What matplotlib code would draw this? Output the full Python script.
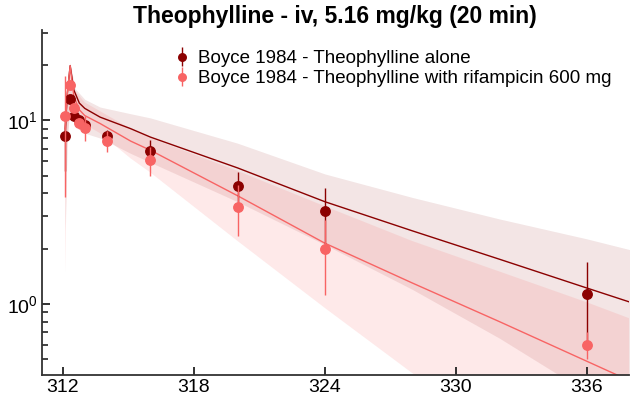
import numpy as np
import matplotlib
matplotlib.use("Agg")
import matplotlib.pyplot as plt

plt.rcParams['font.family'] = ['Liberation Sans', 'DejaVu Sans']
plt.rcParams['mathtext.fontset'] = 'custom'
plt.rcParams['mathtext.rm'] = 'Liberation Sans'
plt.rcParams['mathtext.it'] = 'Liberation Sans:italic'
plt.rcParams['mathtext.bf'] = 'Liberation Sans:bold'

# ---------------- data ----------------
title = "Theophylline - iv, 5.16 mg/kg (20 min)"
label_alone = "Boyce 1984 - Theophylline alone"
label_rif = "Boyce 1984 - Theophylline with rifampicin 600 mg"

obs_time = [312.1, 312.33, 312.5, 312.75, 313.0, 314.0, 316.0, 320.0, 324.0, 336.0]
obs_alone = [8.2, 13.1, 10.6, 10.0, 9.4, 8.2, 6.8, 4.4, 3.2, 1.13]
sd_alone = [2.9, 0.6, 0.5, 0.5, 0.5, 0.7, 1.0, 0.83, 1.07, 0.57]
obs_rif = [10.6, 15.6, 11.7, 9.6, 9.1, 7.7, 6.05, 3.38, 2.0, 0.60]
sd_rif = [6.8, 0.8, 0.7, 0.6, 1.4, 1.0, 1.1, 1.04, 0.88, 0.1]

sim_time = [312.1, 312.2, 312.33, 312.5, 312.75, 313.0, 313.7, 315.1, 316.0,
            320.0, 324.0, 328.0, 332.0, 336.0, 338.0]
sim_alone = [8.5, 14.0, 19.8, 14.6, 12.4, 11.6, 10.4, 9.0, 8.1,
             5.5, 3.6, 2.5, 1.75, 1.22, 1.02]
sim_rif = [9.0, 14.0, 19.8, 13.5, 11.4, 10.6, 9.6, 7.7, 6.87,
           3.88, 2.14, 1.3, 0.8, 0.487, 0.38]

band_time = [312.1, 312.2, 312.33, 312.55, 313.0, 313.7, 315.1, 316.0, 320.0,
             324.0, 328.0, 332.0, 336.0, 338.0]
alone_hi = [9.0, 15.0, 20.5, 14.9, 13.0, 11.8, 10.85, 10.3, 7.5,
            5.1, 3.8, 2.9, 2.26, 1.97]
alone_lo = [2.5, 8.0, 12.0, 9.5, 8.5, 8.0, 6.6, 5.9, 3.6,
            2.1, 1.2, 0.65, 0.33, 0.25]
rif_hi = [9.0, 15.0, 20.5, 14.5, 12.5, 11.2, 9.0, 8.0, 5.3,
          3.4, 2.2, 1.5, 1.02, 0.83]
rif_lo = [1.47, 7.0, 12.0, 10.0, 9.5, 8.5, 6.2, 5.2, 2.2,
          0.95, 0.42, 0.2, 0.1, 0.07]

x_ticks = [312, 318, 324, 330, 336]

# ---------------- style ----------------
c_dark = "#8b0000"
c_light = "#f86464"

fig = plt.figure(figsize=(6.39, 4.0), dpi=100)
ax = fig.add_axes([42/639, 1-375/400, (629-42)/639, (375-30)/400])

ax.fill_between(band_time, alone_lo, alone_hi, color=c_dark, alpha=0.10, lw=0)
ax.fill_between(band_time, rif_lo, rif_hi, color=c_light, alpha=0.14, lw=0)

ax.plot(sim_time, sim_alone, color=c_dark, lw=1.0)
ax.plot(sim_time, sim_rif, color=c_light, lw=1.0)

ax.errorbar(obs_time, obs_alone, yerr=sd_alone, fmt='o', color=c_dark,
            ms=6.8, elinewidth=1.0, capsize=0, label=label_alone, zorder=5)
ax.errorbar(obs_time, obs_rif, yerr=sd_rif, fmt='o', color=c_light,
            ms=6.8, elinewidth=1.0, capsize=0, label=label_rif, zorder=6)

ax.set_yscale('log')
ax.set_xlim(311.04, 337.93)
ax.set_ylim(0.41, 31)
ax.set_xticks(x_ticks)
ax.set_xticklabels([str(v) for v in x_ticks])

for s in ['top', 'right']:
    ax.spines[s].set_visible(False)
for s in ['left', 'bottom']:
    ax.spines[s].set_color('#333333')
    ax.spines[s].set_linewidth(1.3)

ax.tick_params(axis='both', which='major', direction='in', length=6, width=1.3,
               color='#222222', labelsize=14, pad=3)
ax.tick_params(axis='y', which='minor', direction='in', length=4, width=1.2,
               color='#222222')
ax.tick_params(axis='y', which='minor', labelleft=False)

fig.text(335/639, 1-17/400, title, fontsize=16.5, fontweight='bold',
         ha='center', va='center')

leg = ax.legend(loc='upper left', bbox_to_anchor=(175/639, 1-50/400),
                bbox_transform=fig.transFigure, frameon=False, fontsize=13.5,
                handlelength=0.75, handletextpad=0.5, labelspacing=0.15,
                borderpad=0, borderaxespad=0, markerscale=0.8)

fig.savefig("out.png", dpi=100)
